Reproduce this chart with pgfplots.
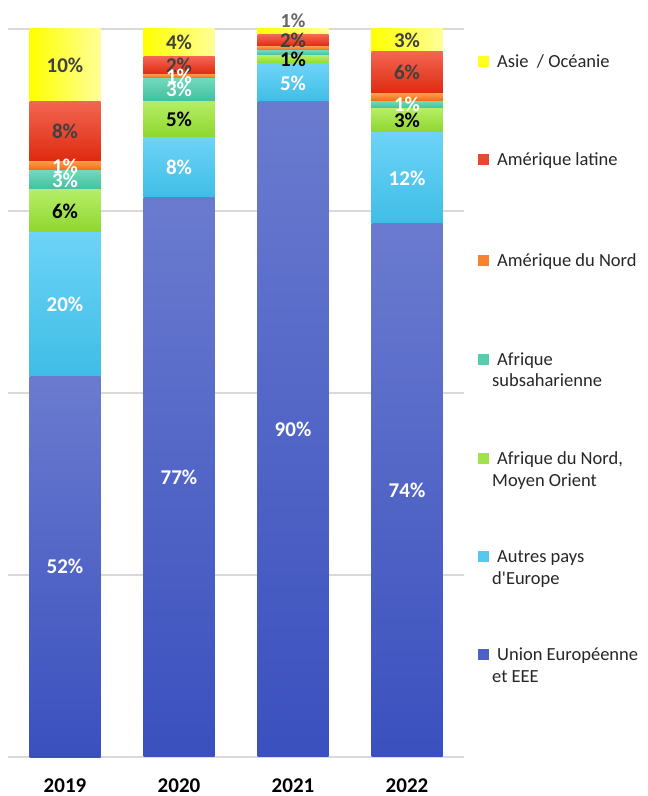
\documentclass[border=0pt]{standalone}
\usepackage{pgfplots}
\pgfplotsset{compat=1.18}
\usepackage{fontspec}
\setmainfont{Carlito}
\definecolor{euT}{HTML}{6A7BCF}
\definecolor{euB}{HTML}{3A50BE}
\definecolor{auT}{HTML}{6DD3F7}
\definecolor{auB}{HTML}{3FBDE6}
\definecolor{anT}{HTML}{B5EE66}
\definecolor{anB}{HTML}{8ED62E}
\definecolor{ssT}{HTML}{72D9BC}
\definecolor{ssB}{HTML}{3FC09F}
\definecolor{noT}{HTML}{FF9A4A}
\definecolor{noB}{HTML}{F06A10}
\definecolor{laT}{HTML}{F36552}
\definecolor{laB}{HTML}{DE2A0E}
\definecolor{asL}{HTML}{FFFF00}
\definecolor{asR}{HTML}{FFFF99}
\definecolor{lblgray}{HTML}{404040}
\definecolor{gridc}{HTML}{D9D9D9}
\pgfplotsset{
  eu/.style={top color=euT, bottom color=euB, every node near coord/.append style={text=white}},
  au/.style={top color=auT, bottom color=auB, every node near coord/.append style={text=white}},
  an/.style={top color=anT, bottom color=anB, every node near coord/.append style={text=black}},
  ss/.style={top color=ssT, bottom color=ssB, every node near coord/.append style={text=white}},
  no/.style={top color=noT, bottom color=noB, every node near coord/.append style={text=white}},
  la/.style={top color=laT, bottom color=laB, every node near coord/.append style={text=lblgray}},
  as/.style={left color=asL, right color=asR, every node near coord/.append style={text=lblgray}},
  base/.style={
    at={(8bp,39bp)}, anchor=south west,
    width=456bp, height=728bp, scale only axis,
    xmin=-0.5, xmax=3.5, ymin=0, ymax=100,
    ybar stacked, bar width=71bp,
    nodes near coords, point meta=explicit symbolic,
    every node near coord/.append style={anchor=center, inner sep=0pt,
       font=\fontsize{21bp}{25bp}\selectfont\bfseries},
    clip=false,
  },
  over/.style={base, hide axis},
}
% one stacked segment: #1 style, #2 x, #3 value (%), #4 label
\newcommand{\seg}[4]{\addplot[draw=none, #1] coordinates {(#2,#3)[#4]};}
\begin{document}
\begin{tikzpicture}
\useasboundingbox (0,0) rectangle (648bp,796bp);
% 2019 (with grid and year labels)
\begin{axis}[base,
  xtick={0,1,2,3}, xticklabels={2019,2020,2021,2022},
  ytick={0,25,50,75,100}, yticklabels={},
  ymajorgrids, major grid style={draw=gridc, line width=1.3bp},
  axis line style={draw=none}, major tick length=0pt,
  xticklabel style={font=\fontsize{21bp}{24bp}\selectfont\bfseries, anchor=base, yshift=-35bp, text depth=0pt},
]
\seg{eu}{0}{52.3}{52\%}
\seg{au}{0}{19.8}{20\%}
\seg{an}{0}{5.8}{6\%}
\seg{ss}{0}{2.7}{3\%}
\seg{no}{0}{1.2}{1\%}
\seg{la}{0}{8.2}{8\%}
\seg{as}{0}{10.0}{10\%}
\end{axis}
% 2020
\begin{axis}[over]
\seg{eu}{1}{76.8}{77\%}
\seg{au}{1}{8.3}{8\%}
\seg{an}{1}{5.0}{5\%}
\seg{ss}{1}{3.1}{3\%}
\seg{no}{1}{0.6}{1\%}
\seg{la}{1}{2.4}{2\%}
\seg{as}{1}{3.8}{4\%}
\end{axis}
% 2021
\begin{axis}[over]
\seg{eu}{2}{90.0}{90\%}
\seg{au}{2}{5.2}{5\%}
\seg{an}{2}{1.2}{1\%}
\seg{ss}{2}{0.7}{}
\seg{no}{2}{0.5}{}
\seg{la}{2}{1.6}{2\%}
\seg{as}{2}{0.8}{}
\node[font=\fontsize{20bp}{24bp}\selectfont\bfseries, text=black!60, inner sep=0pt] at (axis cs:2,101.2) {1\%};
\end{axis}
% 2022
\begin{axis}[over]
\seg{eu}{3}{73.3}{74\%}
\seg{au}{3}{12.5}{12\%}
\seg{an}{3}{3.3}{3\%}
\seg{ss}{3}{1.0}{1\%}
\seg{no}{3}{1.0}{}
\seg{la}{3}{5.8}{6\%}
\seg{as}{3}{3.1}{3\%}
\end{axis}
% legend
\begin{scope}[every node/.style={anchor=base west, inner sep=0pt, text=black!85, font=\fontsize{18.5bp}{22bp}\selectfont}]
\fill[asL!80!asR] (478bp,729bp) rectangle ++(11bp,11bp);
\node at (497bp,728bp) {Asie\ \ / Océanie};
\fill[laT!50!laB] (478bp,631bp) rectangle ++(11bp,11bp);
\node at (497bp,630bp) {Amérique latine};
\fill[noT!50!noB] (478bp,530bp) rectangle ++(11bp,11bp);
\node at (497bp,529bp) {Amérique du Nord};
\fill[ssT!50!ssB] (478bp,431bp) rectangle ++(11bp,11bp);
\node at (497bp,430bp) {Afrique};
\node at (492bp,409bp) {subsaharienne};
\fill[anT!50!anB] (478bp,332bp) rectangle ++(11bp,11bp);
\node at (497bp,331bp) {Afrique du Nord,};
\node at (492bp,309bp) {Moyen Orient};
\fill[auT!50!auB] (478bp,234bp) rectangle ++(11bp,11bp);
\node at (497bp,233bp) {Autres pays};
\node at (492bp,211bp) {d\textquotesingle Europe};
\fill[euT!40!euB] (478bp,136bp) rectangle ++(11bp,11bp);
\node at (497bp,135bp) {Union Européenne};
\node at (492bp,113bp) {et EEE};
\end{scope}
\end{tikzpicture}
\end{document}
